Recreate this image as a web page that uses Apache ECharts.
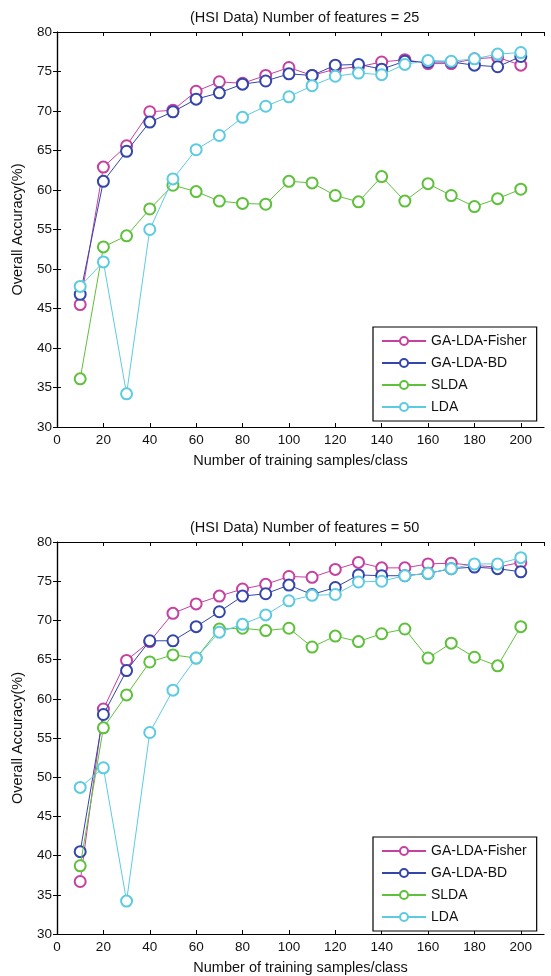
<html>
<head>
  <meta charset="utf-8">
  <title>HSI accuracy</title>
  <script src="https://cdn.jsdelivr.net/npm/echarts@6/dist/echarts.min.js"></script>
</head>
<body style="margin:0;background:#fff;">
<div id="main" style="width:551px;height:976px;"></div>
<script>
  var samples = [10, 20, 30, 40, 50, 60, 70, 80, 90, 100, 110, 120, 130, 140, 150, 160, 170, 180, 190, 200];
  var names = ['GA-LDA-Fisher', 'GA-LDA-BD', 'SLDA', 'LDA'];
  var colors = ['#c640a0', '#3445ab', '#5fc03c', '#5ccbe2'];

  // features = 25
  var fisher25 = [45.5, 62.9, 65.6, 69.9, 70.1, 72.5, 73.7, 73.5, 74.5, 75.5, 74.5, 75.3, 75.6, 76.2, 76.5, 76.0, 76.0, 76.6, 76.8, 75.8];
  var bd25     = [46.8, 61.1, 64.9, 68.6, 69.9, 71.5, 72.3, 73.4, 73.8, 74.7, 74.5, 75.8, 75.9, 75.3, 76.3, 76.2, 76.2, 75.8, 75.6, 76.9];
  var slda25   = [36.1, 52.8, 54.2, 57.6, 60.6, 59.8, 58.6, 58.3, 58.2, 61.1, 60.9, 59.3, 58.5, 61.7, 58.6, 60.8, 59.3, 57.9, 58.9, 60.1];
  var lda25    = [47.8, 50.9, 34.2, 55.0, 61.4, 65.1, 66.9, 69.2, 70.6, 71.8, 73.2, 74.4, 74.8, 74.6, 75.9, 76.4, 76.3, 76.6, 77.2, 77.4];

  // features = 50
  var fisher50 = [36.7, 58.7, 64.9, 67.3, 70.9, 72.1, 73.1, 74.0, 74.6, 75.6, 75.5, 76.5, 77.4, 76.7, 76.7, 77.2, 77.3, 77.0, 76.8, 77.4];
  var bd50     = [40.5, 58.0, 63.6, 67.4, 67.4, 69.2, 71.1, 73.1, 73.4, 74.5, 73.3, 74.2, 75.8, 75.7, 75.7, 76.0, 76.6, 76.8, 76.6, 76.2];
  var slda50   = [38.7, 56.3, 60.5, 64.7, 65.6, 65.2, 68.9, 69.0, 68.7, 69.0, 66.6, 68.0, 67.3, 68.3, 68.9, 65.2, 67.1, 65.3, 64.2, 69.2];
  var lda50    = [48.7, 51.2, 34.2, 55.7, 61.1, 65.2, 68.5, 69.5, 70.7, 72.5, 73.2, 73.3, 74.9, 75.0, 75.7, 76.0, 76.6, 77.2, 77.2, 78.0];

  var titles = ['(HSI Data) Number of features = 25', '(HSI Data) Number of features = 50'];
  var sets = [[fisher25, bd25, slda25, lda25], [fisher50, bd50, slda50, lda50]];

  var font = 'Liberation Sans, Arial, sans-serif';
  var tops = [32, 542];

  function pairs(vals) {
    return samples.map(function (s, i) { return [s, vals[i]]; });
  }

  var grid = [], xAxis = [], yAxis = [], series = [], title = [], legend = [];
  tops.forEach(function (t, g) {
    grid.push({left: 57, right: 7, top: t, height: 395});
    title.push({
      text: titles[g], left: 185, top: t - 27,
      textStyle: {fontFamily: font, fontSize: 14.5, fontWeight: 'normal', color: '#111'}
    });
    // bottom x axis
    xAxis.push({
      type: 'value', gridIndex: g, min: 0, max: 210, interval: 20,
      name: 'Number of training samples/class', nameLocation: 'middle', nameGap: 26,
      nameTextStyle: {fontFamily: font, fontSize: 14.5, color: '#111'},
      axisLine: {lineStyle: {color: '#000', width: 1.2}},
      axisTick: {inside: true, length: 4, lineStyle: {color: '#000'}},
      axisLabel: {fontFamily: font, fontSize: 13.5, color: '#111', margin: 6, showMaxLabel: false,
        formatter: function (v) { return v % 20 === 0 ? v : ''; }},
      splitLine: {show: false}
    });
    // top x axis (box)
    xAxis.push({
      type: 'value', gridIndex: g, position: 'top', min: 0, max: 210, interval: 20,
      axisLine: {lineStyle: {color: '#000', width: 1.2}},
      axisTick: {inside: true, length: 4, lineStyle: {color: '#000'}},
      axisLabel: {show: false}, splitLine: {show: false}
    });
    yAxis.push({
      type: 'value', gridIndex: g, min: 30, max: 80, interval: 5,
      name: 'Overall Accuracy(%)', nameLocation: 'middle', nameGap: 32, nameRotate: 90,
      nameTextStyle: {fontFamily: font, fontSize: 14.5, color: '#111'},
      axisLine: {lineStyle: {color: '#000', width: 1.2}},
      axisTick: {inside: true, length: 4, lineStyle: {color: '#000'}},
      axisLabel: {fontFamily: font, fontSize: 13.5, color: '#111', margin: 5},
      splitLine: {show: false}
    });
    yAxis.push({
      type: 'value', gridIndex: g, position: 'right', min: 30, max: 80, interval: 5,
      axisLine: {lineStyle: {color: '#000', width: 1.2}},
      axisTick: {inside: true, length: 4, lineStyle: {color: '#000'}},
      axisLabel: {show: false}, splitLine: {show: false}
    });
    sets[g].forEach(function (vals, k) {
      series.push({
        name: names[k], type: 'line',
        xAxisIndex: g * 2, yAxisIndex: g * 2,
        data: pairs(vals),
        symbol: 'emptyCircle', symbolSize: 11,
        color: colors[k],
        lineStyle: {width: 1, color: colors[k]},
        itemStyle: {color: colors[k], borderColor: colors[k], borderWidth: 1},
        z: 2 + k
      });
    });
    legend.push({
      data: names, orient: 'vertical', left: 373, top: t + 295,
      backgroundColor: '#fff', borderColor: '#000', borderWidth: 1.2,
      padding: [7, 10, 7, 8], itemGap: 8, itemWidth: 44, itemHeight: 10,
      textStyle: {fontFamily: font, fontSize: 14, color: '#111'},
      selectedMode: false
    });
  });

  var myChart = echarts.init(document.getElementById('main'));
  myChart.setOption({
    animation: false,
    title: title,
    legend: legend,
    grid: grid,
    xAxis: xAxis,
    yAxis: yAxis,
    series: series
  });
</script>
</body>
</html>
